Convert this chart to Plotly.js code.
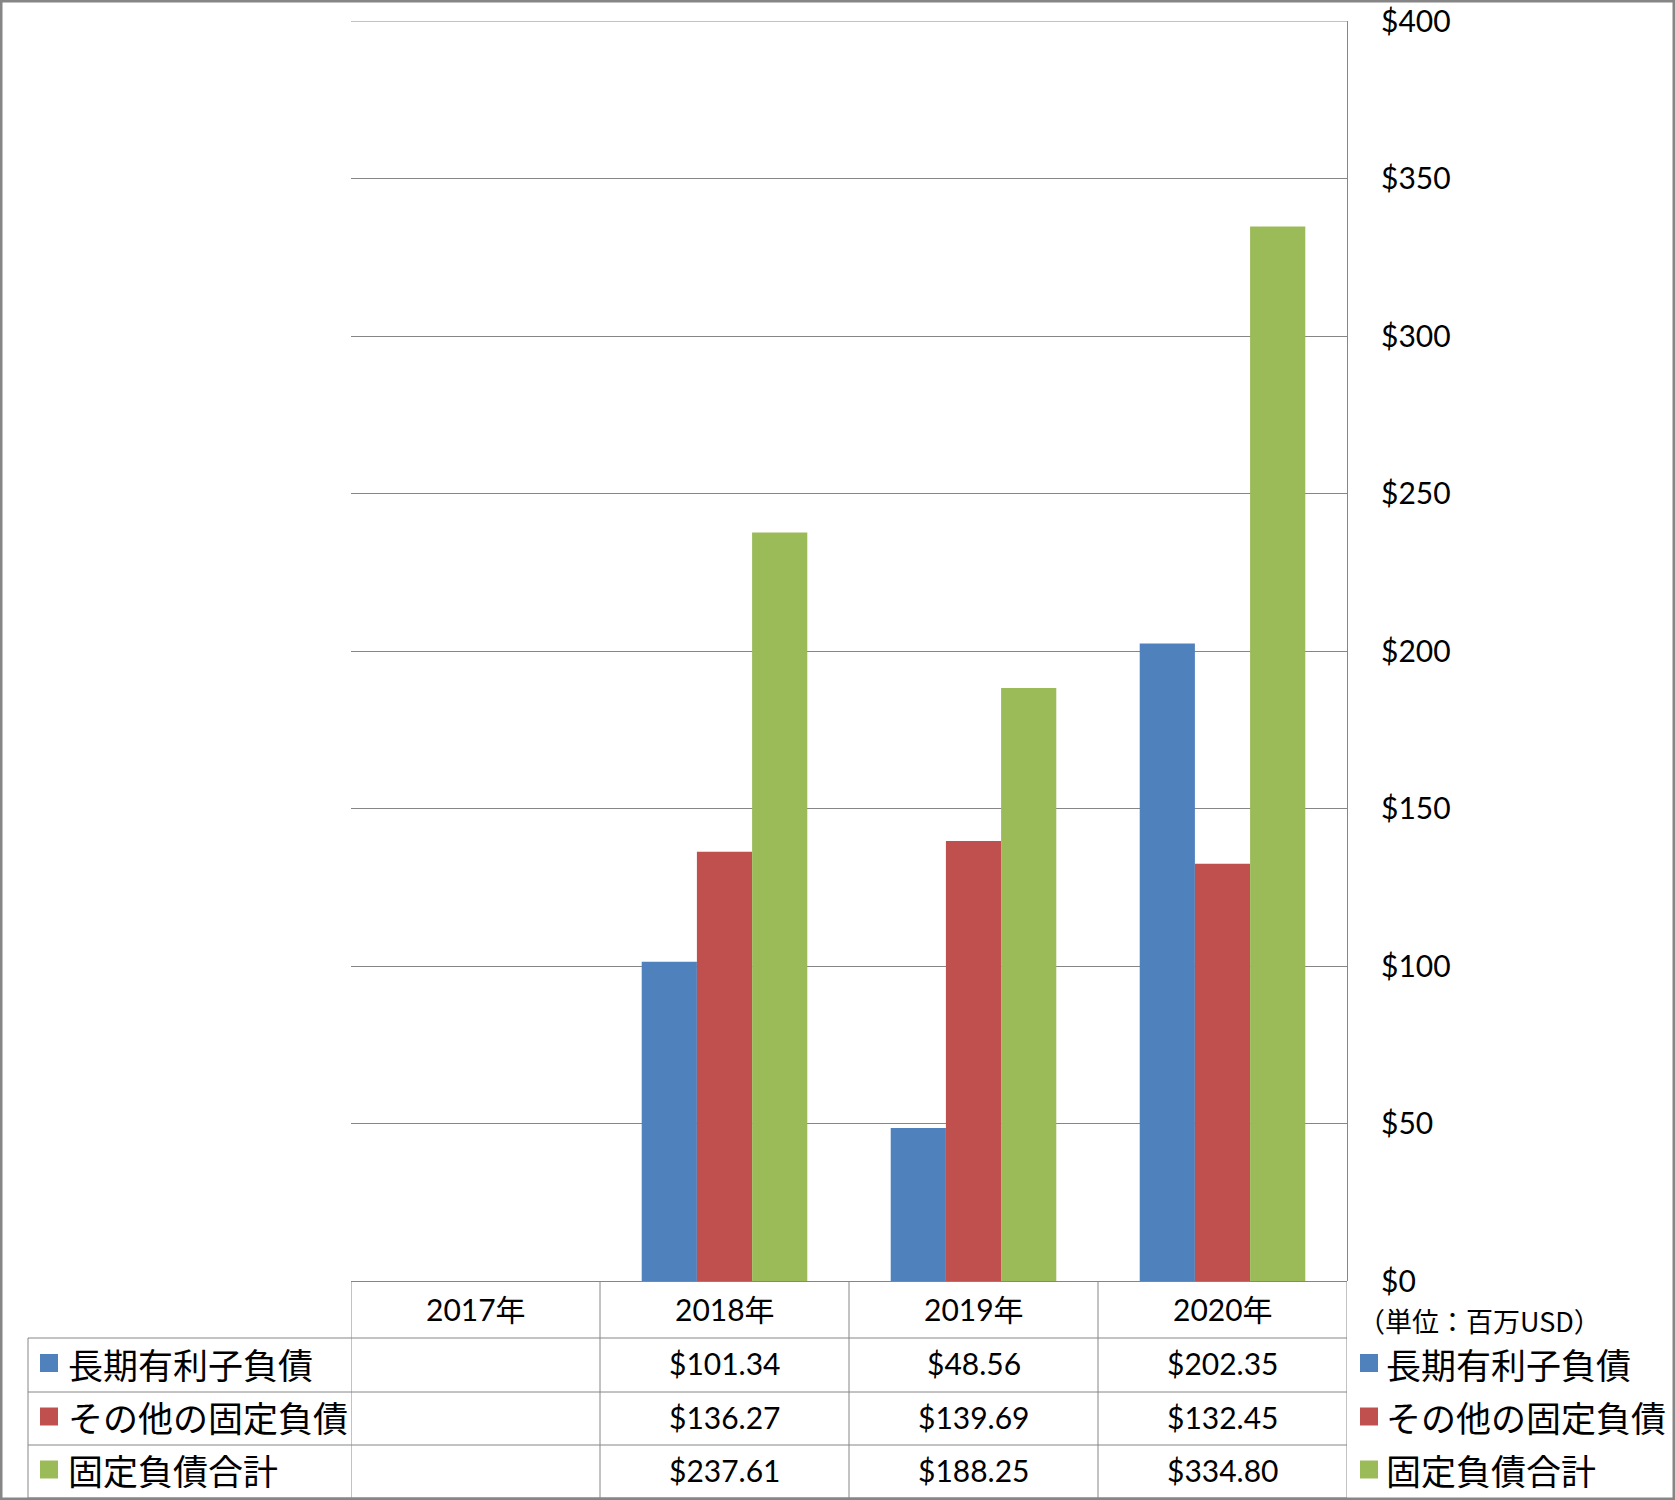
<!DOCTYPE html>
<html>
<head>
<meta charset="utf-8">
<script src="https://cdn.plot.ly/plotly-3.0.1.min.js"></script>
<style>
  html, body { margin: 0; padding: 0; background: #ffffff; }
  #chart { width: 1675px; height: 1500px; }
</style>
</head>
<body>
<div id="chart"></div>
<script>
// ---- data ----
const categories = ['2017年', '2018年', '2019年', '2020年'];
const seriesNames = ['長期有利子負債', 'その他の固定負債', '固定負債合計'];
const longTermDebt = [null, 101.34, 48.56, 202.35];
const otherFixedLiab = [null, 136.27, 139.69, 132.45];
const totalFixedLiab = [null, 237.61, 188.25, 334.80];
const yTickValues = [0, 50, 100, 150, 200, 250, 300, 350, 400];
const unitLabel = '（単位：百万USD）';

// ---- layout helpers ----
const W = 1675, H = 1500;
const M = { l: 351, r: W - 1347, t: 21, b: H - 1281 };
const PW = W - M.l - M.r, PH = H - M.t - M.b;
const px = x => (x - M.l) / PW;        // pixel x -> paper x
const py = y => (H - M.b - y) / PH;    // pixel y -> paper y

const colors = ['#4F81BD', '#C0504D', '#9BBB59'];
const gridColor = '#868686';
const numFont = 'Lato, "Noto Sans CJK JP", sans-serif';
const jpFont = '"Noto Sans CJK JP", sans-serif';

const allSeries = [longTermDebt, otherFixedLiab, totalFixedLiab];

const traces = allSeries.map((vals, i) => ({
  type: 'bar',
  name: seriesNames[i],
  x: categories,
  y: vals,
  marker: { color: colors[i], line: { width: 0 } },
  hoverinfo: 'x+y+name'
}));

const fmt = v => (v === null || v === undefined) ? '' : '$' + v.toFixed(2);

// table geometry (pixels)
const headerTop = 1281, row1Top = 1338, row2Top = 1392, row3Top = 1445, tableBottom = 1498;
const rowTops = [row1Top, row2Top, row3Top];
const rowBottoms = [row2Top, row3Top, tableBottom];
const tableLeft = 28;

const shapes = [];
const annotations = [];

// top gridline at the maximum tick
shapes.push({
  type: 'line', xref: 'paper', yref: 'y',
  x0: 0, x1: 1, y0: yTickValues[yTickValues.length - 1], y1: yTickValues[yTickValues.length - 1],
  line: { color: gridColor, width: 1 }
});

// vertical lines between categories (data coordinates)
for (let k = 0; k <= categories.length; k++) {
  shapes.push({
    type: 'line', xref: 'x', yref: 'paper',
    x0: k - 0.5, x1: k - 0.5, y0: py(headerTop), y1: py(tableBottom),
    line: { color: gridColor, width: 1 }
  });
}
// left border of legend column
shapes.push({
  type: 'line', xref: 'paper', yref: 'paper',
  x0: px(tableLeft), x1: px(tableLeft), y0: py(row1Top), y1: py(tableBottom),
  line: { color: gridColor, width: 1 }
});
// horizontal row lines
rowTops.forEach(t => {
  shapes.push({
    type: 'line', xref: 'paper', yref: 'paper',
    x0: px(tableLeft), x1: 1, y0: py(t), y1: py(t),
    line: { color: gridColor, width: 1 }
  });
});
shapes.push({
  type: 'line', xref: 'paper', yref: 'paper',
  x0: px(tableLeft), x1: 1, y0: py(tableBottom), y1: py(tableBottom),
  line: { color: gridColor, width: 1 }
});

// header row: category labels
categories.forEach(c => {
  annotations.push({
    xref: 'x', yref: 'paper', x: c, y: py((headerTop + row1Top) / 2 - 1),
    text: c, showarrow: false, xanchor: 'center', yanchor: 'middle',
    font: { family: numFont, size: 30, color: '#000' }
  });
});

// table values + legend entries
allSeries.forEach((vals, i) => {
  const cy = (rowTops[i] + rowBottoms[i]) / 2;
  vals.forEach((v, j) => {
    if (v === null) return;
    annotations.push({
      xref: 'x', yref: 'paper', x: categories[j], y: py(cy - 2),
      text: fmt(v), showarrow: false, xanchor: 'center', yanchor: 'middle',
      font: { family: numFont, size: 30, color: '#000' }
    });
  });
  // left legend inside table
  shapes.push({
    type: 'rect', xref: 'paper', yref: 'paper',
    x0: px(40), x1: px(58), y0: py(cy - 11), y1: py(cy + 7),
    fillcolor: colors[i], line: { width: 0 }
  });
  annotations.push({
    xref: 'paper', yref: 'paper', x: px(66), y: py(cy - 2),
    text: seriesNames[i], showarrow: false, xanchor: 'left', yanchor: 'middle',
    font: { family: jpFont, size: 35, color: '#000' }
  });
  // right legend
  shapes.push({
    type: 'rect', xref: 'paper', yref: 'paper',
    x0: px(1360), x1: px(1378), y0: py(cy - 11), y1: py(cy + 7),
    fillcolor: colors[i], line: { width: 0 }
  });
  annotations.push({
    xref: 'paper', yref: 'paper', x: px(1384), y: py(cy - 2),
    text: seriesNames[i], showarrow: false, xanchor: 'left', yanchor: 'middle',
    font: { family: jpFont, size: 35, color: '#000' }
  });
});

// unit label
annotations.push({
  xref: 'paper', yref: 'paper', x: px(1356), y: py(1321),
  text: unitLabel, showarrow: false, xanchor: 'left', yanchor: 'middle',
  font: { family: jpFont, size: 27, color: '#000' }
});

// outer frame
shapes.push({
  type: 'rect', xref: 'paper', yref: 'paper',
  x0: px(0), x1: px(W), y0: py(H), y1: py(0),
  line: { color: gridColor, width: 5 }, fillcolor: 'rgba(0,0,0,0)'
});

const layout = {
  width: W, height: H, autosize: false,
  margin: M,
  paper_bgcolor: '#ffffff',
  plot_bgcolor: '#ffffff',
  showlegend: false,
  barmode: 'group',
  bargap: 0.335,
  bargroupgap: 0,
  xaxis: {
    type: 'category',
    categoryorder: 'array',
    categoryarray: categories,
    range: [-0.5, categories.length - 0.5],
    showticklabels: false,
    showgrid: false,
    zeroline: false,
    showline: false,
    ticks: ''
  },
  yaxis: {
    side: 'right',
    range: [0, 400],
    tickvals: yTickValues,
    ticktext: yTickValues.map(v => '$' + v),
    showgrid: true,
    gridcolor: gridColor,
    gridwidth: 1,
    zeroline: true,
    zerolinecolor: gridColor,
    zerolinewidth: 1,
    showline: true,
    linecolor: gridColor,
    linewidth: 1,
    ticks: '',
    ticklabelstandoff: 27,
    tickfont: { family: numFont, size: 30, color: '#000' }
  },
  shapes: shapes,
  annotations: annotations
};

Plotly.newPlot('chart', traces, layout, { staticPlot: true, displayModeBar: false });
</script>
</body>
</html>
